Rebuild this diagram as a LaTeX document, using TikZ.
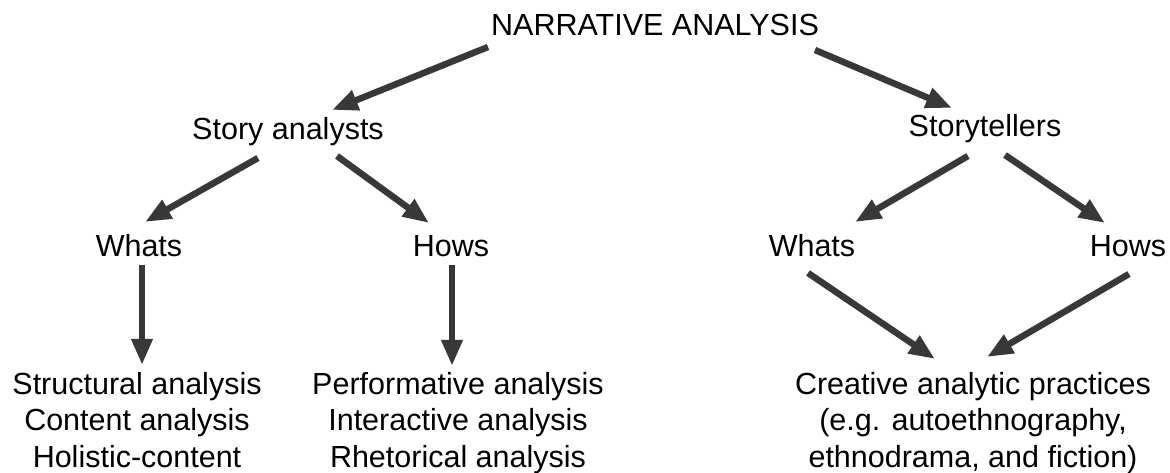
\documentclass[tikz,border=0pt]{standalone}
\usepackage{fontspec}
\setmainfont{Liberation Sans}
\usetikzlibrary{arrows.meta}
\definecolor{arrowgray}{HTML}{383838}

\begin{document}
\begin{tikzpicture}[x=1pt,y=1pt,->,>={Triangle[length=26pt,width=20pt]},
                    every edge/.style={draw=arrowgray,line width=6.5pt},
                    lbl/.style={inner sep=0pt,anchor=base,font=\fontsize{30.5}{36.5}\selectfont},
                    leaf/.style={lbl,anchor=north,align=center}]
  \useasboundingbox (0,0) rectangle (1170,473);

  \node[lbl] (narr)    at (655,437) {NARRATIVE ANALYSIS};
  \node[lbl] (story)   at (288,333) {Story analysts};
  \node[lbl] (tellers) at (985,336) {Storytellers};
  \node[lbl] (whatsL)  at (139,216) {Whats};
  \node[lbl] (howsL)   at (451,216) {Hows};
  \node[lbl] (whatsR)  at (812,216) {Whats};
  \node[lbl] (howsR)   at (1128,216) {Hows};

  \node[leaf] (struct) at (137,101) {Structural analysis\\Content analysis\\Holistic-content};
  \node[leaf] (perf)   at (458,101) {Performative analysis\\Interactive analysis\\Rhetorical analysis};
  \node[leaf] (creat)  at (973,101) {Creative analytic practices\\(e.g. autoethnography,\\ethnodrama, and fiction)};

  \path ([shift={(-167,-11)}]narr.base) edge ([shift={(44,30)}]story.base)
        ([shift={(160,-14)}]narr.base)  edge ([shift={(-33,29)}]tellers.base)
        ([shift={(-30,-18)}]story.base) edge ([shift={(6,35)}]whatsL.base)
        ([shift={(49,-16)}]story.base)  edge ([shift={(-22,34)}]howsL.base)
        ([shift={(-17,-19)}]tellers.base) edge ([shift={(43,35)}]whatsR.base)
        ([shift={(20,-18)}]tellers.base)  edge ([shift={(-23,34)}]howsR.base)
        ([shift={(3,-8)}]whatsL.base)  edge ([shift={(5,7)}]struct.north)
        ([shift={(1,-8)}]howsL.base)   edge ([shift={(-6,6)}]perf.north)
        ([shift={(-4,-16)}]whatsR.base) edge ([shift={(-38,13)}]creat.north)
        ([shift={(1,-17)}]howsR.base)   edge ([shift={(14,15)}]creat.north);

\end{tikzpicture}
\end{document}
